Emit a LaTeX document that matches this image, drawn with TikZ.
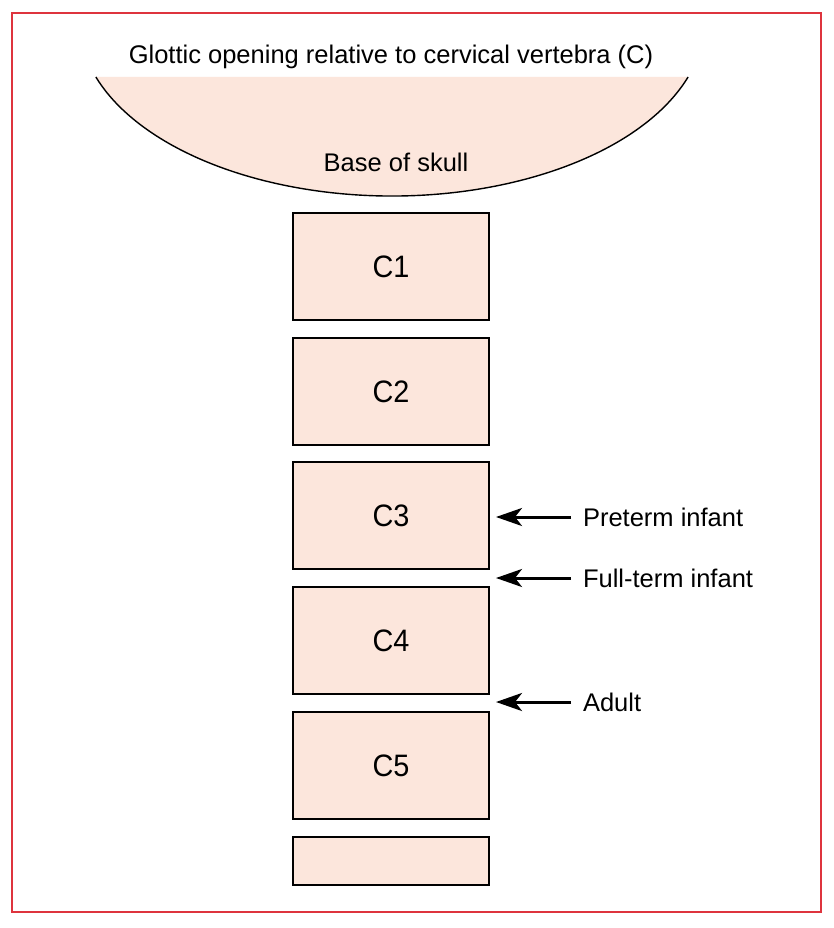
\documentclass[tikz,border=0pt]{standalone}
\usepackage{fontspec}
\setmainfont{Liberation Sans}
\usetikzlibrary{arrows.meta}
\definecolor{peach}{RGB}{252,230,220}
\definecolor{frame}{RGB}{222,52,62}
\begin{document}
\begin{tikzpicture}[x=1pt,y=1pt,
  vbox/.style={draw=black,fill=peach,line width=1.4pt,minimum width=196pt,inner sep=0pt,font=\fontsize{31}{34}\selectfont\addfontfeatures{FakeStretch=0.93}},
  lbl/.style={anchor=west,inner sep=0pt,outer xsep=12pt,font=\fontsize{25.5}{28}\selectfont},
  pointer/.style={line width=3pt,-{Stealth[length=26pt,width=18pt,inset=7pt]}}]
\useasboundingbox (0,0) rectangle (834,-928);
\fill[white] (0,0) rectangle (834,-928);
\draw[frame,line width=1.4pt] (12,-13) rectangle (821,-912);
% skull base
\fill[peach] (688.1,-77) arc[start angle=-18.9,end angle=-161.1,x radius=313pt,y radius=176pt] -- cycle;
\draw[line width=1.4pt] (688.1,-77) arc[start angle=-18.9,end angle=-161.1,x radius=313pt,y radius=176pt];
\node[font=\fontsize{25.5}{28}\selectfont] (title) at (391,-57) {Glottic opening relative to cervical vertebra (C)};
\node[font=\fontsize{25.5}{28}\selectfont] (skull) at (396,-162) {Base of skull};
% vertebrae
\node[vbox,minimum height=107pt] (c1) at (391,-266.5) {C1};
\node[vbox,minimum height=107pt] (c2) at (391,-391.5) {C2};
\node[vbox,minimum height=107pt] (c3) at (391,-515.5) {C3};
\node[vbox,minimum height=107pt] (c4) at (391,-640.5) {C4};
\node[vbox,minimum height=107pt] (c5) at (391,-765.5) {C5};
\node[vbox,minimum height=48pt] (c6) at (391,-861) {};
% labels
\node[lbl] (pre) at (571,-517) {Preterm infant};
\node[lbl] (full) at (571,-578) {Full-term infant};
\node[lbl] (adult) at (571,-702) {Adult};
\coordinate (tpre) at (496,-517);
\coordinate (tfull) at (496,-578);
\coordinate (tadult) at (496,-702);
\draw[pointer] (pre.west) -- (tpre);
\draw[pointer] (full.west) -- (tfull);
\draw[pointer] (adult.west) -- (tadult);
\end{tikzpicture}
\end{document}
